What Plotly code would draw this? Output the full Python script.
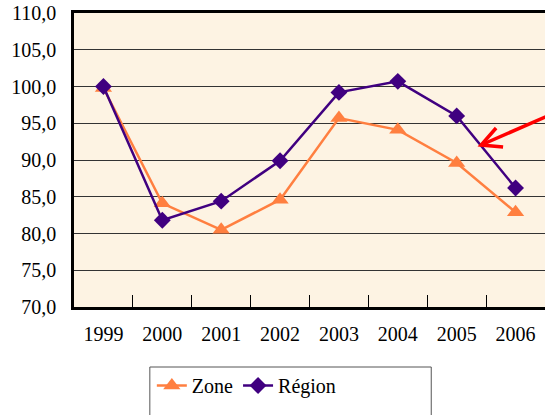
import plotly.graph_objects as go

years = ["1999", "2000", "2001", "2002", "2003", "2004", "2005", "2006"]
zone = [99.8, 84.1, 80.5, 84.6, 95.7, 94.1, 89.6, 82.9]
region = [100.0, 81.8, 84.4, 89.9, 99.2, 100.7, 96.0, 86.2]
y_ticks = [70, 75, 80, 85, 90, 95, 100, 105, 110]
y_labels = ["70,0", "75,0", "80,0", "85,0", "90,0", "95,0", "100,0", "105,0", "110,0"]

W, H = 545, 415
# plot area in page pixels (page body margin removed below)
L, T, B, R = 74, 13, 307, 546
PW, PH = R - L, B - T


def px(xs, ys):
    return (xs - L) / PW, (B - ys) / PH


FONT = "Liberation Serif"
FS = 20

fig = go.Figure()
fig.add_trace(go.Scatter(x=years, y=zone, name="Zone", mode="lines+markers",
                         line=dict(color="#FF7F40", width=2.5),
                         marker=dict(symbol="triangle-up", size=15, color="#FF7F40")))
fig.add_trace(go.Scatter(x=years, y=region, name="Région", mode="lines+markers",
                         line=dict(color="#400080", width=2.5),
                         marker=dict(symbol="diamond", size=13, color="#400080")))

x0, y0 = px(150, 367)
x1, y1 = px(432, 450)
fig.add_shape(type="rect", xref="paper", yref="paper", x0=x0, y0=y0, x1=x1, y1=y1,
              line=dict(color="#555555", width=1), fillcolor="rgba(0,0,0,0)", layer="above")

tip = px(482, 145)
tail = px(560, 111)
a1 = px(497, 128)
a2 = px(504, 147)
fig.add_shape(type="line", xref="paper", yref="paper", x0=tail[0], y0=tail[1], x1=tip[0], y1=tip[1],
              line=dict(color="#FF0000", width=3.5), layer="above")
fig.add_shape(type="path", xref="paper", yref="paper",
              path=f"M {a1[0]} {a1[1]} L {tip[0]} {tip[1]} L {a2[0]} {a2[1]}",
              line=dict(color="#FF0000", width=3.5), layer="above")

lx, ly = px(152, 366)
fig.update_layout(
    width=W, height=H,
    margin=dict(l=L, r=max(W - R, 0), t=T, b=H - B, pad=0, autoexpand=False),
    paper_bgcolor="white", plot_bgcolor="#FDF3E3",
    font=dict(family=FONT, size=FS, color="black"),
    showlegend=True,
    legend=dict(orientation="h", x=lx, y=ly, xanchor="left", yanchor="top",
                bgcolor="rgba(0,0,0,0)", font=dict(family=FONT, size=FS), itemwidth=30),
    xaxis=dict(type="category", range=[-0.5, 7.5], showline=True, linecolor="black", linewidth=2.5,
               mirror=True, ticks="inside", tickson="boundaries", ticklen=12, tickcolor="black",
               tickwidth=1, showgrid=False, zeroline=False, ticklabelstandoff=7, automargin=False,
               tickfont=dict(family=FONT, size=FS)),
    yaxis=dict(range=[70, 110], tickvals=y_ticks, ticktext=y_labels, showline=True, linecolor="black",
               linewidth=2.5, mirror=False, showgrid=True, gridcolor="#333333", gridwidth=1,
               ticks="", zeroline=False, ticklabelstandoff=11, ticklabeloverflow="allow",
               automargin=False, tickfont=dict(family=FONT, size=FS)),
)
fig.write_html("out.html", config={"displayModeBar": False},
               post_script="document.body.style.margin='0';document.body.style.overflow='hidden';")
